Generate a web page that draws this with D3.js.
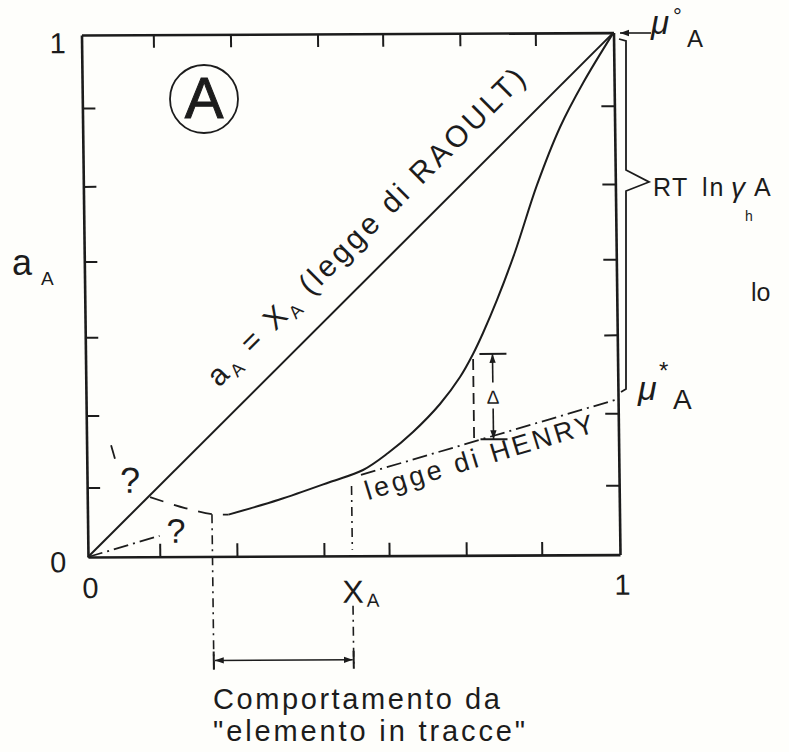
<!DOCTYPE html>
<html>
<head>
<meta charset="utf-8">
<script src="https://cdn.jsdelivr.net/npm/d3@7"></script>
<style>
  html, body { margin: 0; padding: 0; background: #fefefb; }
  svg { display: block; }
  text { font-family: "Liberation Sans", Arial, sans-serif; fill: #1c1c1c; }
</style>
</head>
<body>
<svg id="chart" width="789" height="752"></svg>
<script>
// ---- data (mole fraction X_A, activity a_A) ----
const tickValuesX = [0.135, 0.28, 0.4436, 0.566, 0.711, 0.853];
const tickValuesY = [0.133, 0.271, 0.421, 0.566, 0.71, 0.86];
const endLabels = ["0", "1"];

const raoultLine = [[0, 0], [1, 1]];
const henryLow = [[0, 0], [0.135, 0.040]];
const henryHigh = [[0.515, 0.155], [1, 0.298]];
const activityCurve = [
  [0.265, 0.080], [0.36, 0.108], [0.4567, 0.1416], [0.519, 0.1643],
  [0.5664, 0.1966], [0.6138, 0.2367], [0.6652, 0.2901], [0.7035, 0.3416],
  [0.7285, 0.3856], [0.7477, 0.4257], [0.7748, 0.4888], [0.8098, 0.5806],
  [0.8527, 0.7088], [0.8975, 0.8197], [0.9416, 0.9038], [1, 1]
];
const dilutedDashed = [[0.118, 0.114], [0.1835, 0.093], [0.234, 0.081], [0.265, 0.080]];
const dilutedTail = [[0.046, 0.214], [0.053, 0.188]];
const traceLimits = [0.234, 0.497];          // range of "elemento in tracce" behaviour
const traceLimitTop = [0.081, 0.149];
const deltaX = 0.7285, deltaTop = 0.3856, deltaBottom = 0.222;
const deltaArrowX = 0.765;

// ---- layout ----
const svg = d3.select("#chart");
const W = 532, H = 522;
const x = d3.scaleLinear().domain([0, 1]).range([0, W]);
const y = d3.scaleLinear().domain([0, 1]).range([0, -H]);

const ink = "#1c1c1c";
const defs = svg.append("defs");
defs.append("marker").attr("id", "arr").attr("viewBox", "0 0 10 10")
  .attr("refX", 10).attr("refY", 5).attr("markerWidth", 9).attr("markerHeight", 9)
  .attr("markerUnits", "userSpaceOnUse").attr("orient", "auto-start-reverse")
  .append("path").attr("d", "M0,1.5 L10,5 L0,8.5 Z").attr("fill", ink);

// slightly sheared frame, origin at the lower-left corner
const g = svg.append("g")
  .attr("transform", "translate(88,557) matrix(1,-0.0045,0.0125,1,0,0)");

const line = d3.line().x(d => x(d[0])).y(d => y(d[1]));
const smooth = d3.line().x(d => x(d[0])).y(d => y(d[1])).curve(d3.curveCatmullRom.alpha(0.5));

// axes: ticks pointing inward on all four sides
function styleAxis(sel) {
  sel.selectAll("path.domain").attr("stroke", ink).attr("stroke-width", 2.6);
  sel.selectAll(".tick line").attr("stroke", ink).attr("stroke-width", 2);
  sel.selectAll(".tick text").remove();
}
g.append("g").call(d3.axisBottom(x).tickValues(tickValuesX).tickSize(-13).tickSizeOuter(0)).call(styleAxis);
g.append("g").attr("transform", `translate(0,${y(1)})`)
  .call(d3.axisTop(x).tickValues(tickValuesX).tickSize(-13).tickSizeOuter(0)).call(styleAxis);
g.append("g").call(d3.axisLeft(y).tickValues(tickValuesY).tickSize(-13).tickSizeOuter(0)).call(styleAxis);
g.append("g").attr("transform", `translate(${x(1)},0)`)
  .call(d3.axisRight(y).tickValues(tickValuesY).tickSize(-13).tickSizeOuter(0)).call(styleAxis);

// Raoult's law
g.append("path").attr("d", line(raoultLine)).attr("fill", "none")
  .attr("stroke", ink).attr("stroke-width", 2);

// Henry's law (dash-dot)
[henryLow, henryHigh].forEach(seg => {
  g.append("path").attr("d", line(seg)).attr("fill", "none")
    .attr("stroke", ink).attr("stroke-width", 1.8).attr("stroke-dasharray", "15,5,2,5");
});

// real activity curve
g.append("path").attr("d", smooth(activityCurve)).attr("fill", "none")
  .attr("stroke", ink).attr("stroke-width", 2);

// uncertain dilute region (dashed)
g.append("path").attr("d", smooth(dilutedDashed)).attr("fill", "none")
  .attr("stroke", ink).attr("stroke-width", 1.8).attr("stroke-dasharray", "14,11");
g.append("path").attr("d", line(dilutedTail)).attr("fill", "none")
  .attr("stroke", ink).attr("stroke-width", 1.8);

// vertical dash-dot markers of the trace-element range
g.append("path").attr("d", `M${x(traceLimits[0])},${y(traceLimitTop[0])} V${113}`)
  .attr("stroke", ink).attr("stroke-width", 1.6).attr("stroke-dasharray", "9,5,2,5");
g.append("path").attr("d", `M${x(traceLimits[1])},${y(traceLimitTop[1]) + 8} V${-6}`)
  .attr("stroke", ink).attr("stroke-width", 1.6).attr("stroke-dasharray", "9,5,2,5");
g.append("path").attr("d", `M${x(traceLimits[1])},${50} V${110}`)
  .attr("stroke", ink).attr("stroke-width", 1.6).attr("stroke-dasharray", "9,5,2,5");

// horizontal double arrow below the axis
const arrY = 104;
g.append("line").attr("x1", x(traceLimits[0]) + 1).attr("x2", x(traceLimits[1]) - 1)
  .attr("y1", arrY).attr("y2", arrY).attr("stroke", ink).attr("stroke-width", 1.6)
  .attr("marker-start", "url(#arr)").attr("marker-end", "url(#arr)");
traceLimits.forEach(v => g.append("line").attr("x1", x(v)).attr("x2", x(v))
  .attr("y1", arrY - 9).attr("y2", arrY + 9).attr("stroke", ink).attr("stroke-width", 2));

// Δ between real curve and Henry's law
g.append("path").attr("d", `M${x(deltaX)},${y(deltaTop) + 5} V${y(deltaBottom)}`)
  .attr("stroke", ink).attr("stroke-width", 1.8).attr("stroke-dasharray", "11,6");
[deltaTop, deltaBottom].forEach(v => g.append("line")
  .attr("x1", x(deltaArrowX) - 13).attr("x2", x(deltaArrowX) + 14)
  .attr("y1", y(v)).attr("y2", y(v)).attr("stroke", ink).attr("stroke-width", 2));
g.append("line").attr("x1", x(deltaArrowX)).attr("x2", x(deltaArrowX))
  .attr("y1", y((deltaTop + deltaBottom) / 2) - 14).attr("y2", y(deltaTop))
  .attr("stroke", ink).attr("stroke-width", 1.6).attr("marker-end", "url(#arr)");
g.append("line").attr("x1", x(deltaArrowX)).attr("x2", x(deltaArrowX))
  .attr("y1", y((deltaTop + deltaBottom) / 2) + 12).attr("y2", y(deltaBottom))
  .attr("stroke", ink).attr("stroke-width", 1.6).attr("marker-end", "url(#arr)");
g.append("text").attr("x", x(deltaArrowX)).attr("y", y((deltaTop + deltaBottom) / 2) + 7)
  .attr("text-anchor", "middle").attr("font-size", 19).text("Δ");

// letter-spacing helper so a label spans a given length
function fit(sel, target) {
  const n = sel.text().length;
  const len = sel.node().getComputedTextLength();
  sel.attr("letter-spacing", ((target - len) / Math.max(1, n - 1)).toFixed(2));
}

// axis end labels
g.append("text").attr("x", -32).attr("y", y(1) + 18).attr("font-size", 29).text(endLabels[1]);
g.append("text").attr("x", -38).attr("y", 15).attr("font-size", 29).text(endLabels[0]);
g.append("text").attr("x", -6).attr("y", 41).attr("font-size", 29).text(endLabels[0]);
g.append("text").attr("x", x(1) - 6).attr("y", 40).attr("font-size", 29).text(endLabels[1]);

// X_A label
g.append("text").attr("x", 254).attr("y", 47).attr("font-size", 32).text("X");
g.append("text").attr("x", 278).attr("y", 51).attr("font-size", 19).text("A");

// Raoult label along the diagonal
{
  const ang = Math.atan2(y(1) - y(0), x(1) - x(0));
  const u = [Math.cos(ang), Math.sin(ang)], n = [u[1], -u[0]];
  const s = 213, off = 27;
  const px = u[0] * s + n[0] * off, py = u[1] * s + n[1] * off;
  const t = g.append("text").attr("transform", `translate(${px},${py}) rotate(${ang * 180 / Math.PI})`)
    .attr("font-size", 30);
  t.append("tspan").text("a");
  t.append("tspan").attr("font-size", 18).attr("dy", 6).text("A");
  t.append("tspan").attr("dy", -6).text(" = X");
  t.append("tspan").attr("font-size", 18).attr("dy", 6).text("A");
  t.append("tspan").attr("dy", -6).text(" (legge di RAOULT)");
  fit(t, 437);
}

// Henry label along the dash-dot line
{
  const ang = Math.atan2(y(0.3) - y(0), x(1) - x(0));
  const u = [Math.cos(ang), Math.sin(ang)], n = [-u[1], u[0]];
  const s = 285, off = 26;
  const px = u[0] * s + n[0] * off, py = u[1] * s + n[1] * off;
  const t = g.append("text").attr("transform", `translate(${px},${py}) rotate(${ang * 180 / Math.PI})`)
    .attr("font-size", 27).text("legge di HENRY");
  fit(t, 238);
}

// question marks in the dilute region
g.append("text").attr("x", 33).attr("y", -64).attr("font-size", 36).text("?");
g.append("text").attr("x", 79).attr("y", -14).attr("font-size", 34).text("?");

// ---- labels outside the frame (page coordinates) ----
// circled A
svg.append("circle").attr("cx", 204).attr("cy", 99).attr("r", 34)
  .attr("fill", "none").attr("stroke", ink).attr("stroke-width", 1.8);
svg.append("text").attr("x", 204).attr("y", 118).attr("text-anchor", "middle")
  .attr("font-size", 58).attr("stroke", ink).attr("stroke-width", 1).text("A");

// a_A y-axis label
svg.append("text").attr("x", 12).attr("y", 275).attr("font-size", 36).text("a");
svg.append("text").attr("x", 41).attr("y", 285).attr("font-size", 19).text("A");

// μ°A pointer at the top right corner
svg.append("line").attr("x1", 651).attr("x2", 620).attr("y1", 33).attr("y2", 33)
  .attr("stroke", ink).attr("stroke-width", 1.6).attr("marker-end", "url(#arr)");
svg.append("text").attr("x", 651).attr("y", 34).attr("font-size", 33)
  .attr("font-family", "DejaVu Serif").attr("font-style", "italic").text("μ");
svg.append("text").attr("x", 673).attr("y", 24).attr("font-size", 22).text("°");
svg.append("text").attr("x", 687).attr("y", 47).attr("font-size", 24).text("A");

// brace spanning μ°A … μ*A
svg.append("path")
  .attr("d", "M619,39 L626,41 L626,170 L649,182 L626,191 L626,389 L621,392")
  .attr("fill", "none").attr("stroke", ink).attr("stroke-width", 1.8).attr("stroke-linejoin", "miter");

// RT ln γ_h A
svg.append("text").attr("x", 653).attr("y", 196).attr("font-size", 25).attr("letter-spacing", 1.5).text("RT");
svg.append("text").attr("x", 702).attr("y", 196).attr("font-size", 25).attr("letter-spacing", 2).text("ln");
svg.append("text").attr("x", 731).attr("y", 197).attr("font-size", 28)
  .attr("font-family", "DejaVu Serif").attr("font-style", "italic").text("γ");
svg.append("text").attr("x", 745).attr("y", 221).attr("font-size", 14).attr("fill", "#6a5a3a").text("h");
svg.append("text").attr("x", 754).attr("y", 196).attr("font-size", 25).text("A");

svg.append("text").attr("x", 751).attr("y", 301).attr("font-size", 25).text("lo");

// μ*A
svg.append("text").attr("x", 638).attr("y", 400).attr("font-size", 34)
  .attr("font-family", "DejaVu Serif").attr("font-style", "italic").text("μ");
svg.append("text").attr("x", 659).attr("y", 379).attr("font-size", 24).text("*");
svg.append("text").attr("x", 673).attr("y", 409).attr("font-size", 28).text("A");

// caption
const c1 = svg.append("text").attr("x", 213).attr("y", 709).attr("font-size", 29).text("Comportamento da");
fit(c1, 287);
const c2 = svg.append("text").attr("x", 213).attr("y", 741).attr("font-size", 29).text("\"elemento in tracce\"");
fit(c2, 312);
</script>
</body>
</html>
